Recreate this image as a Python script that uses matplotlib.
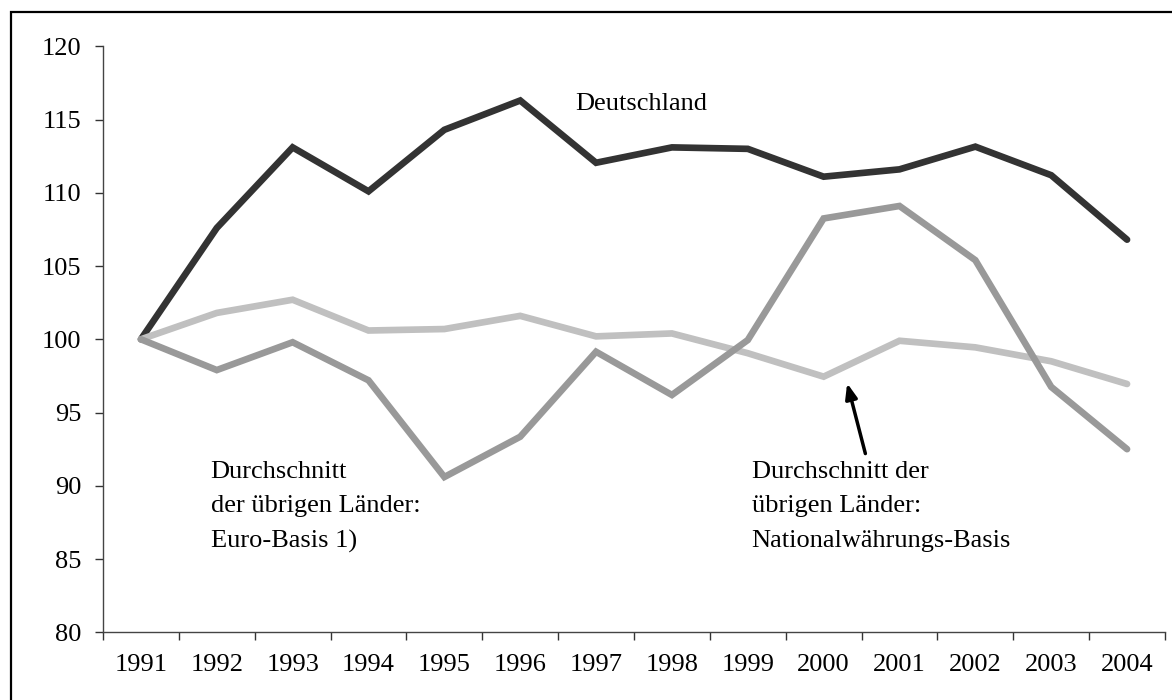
import matplotlib.pyplot as plt
import numpy as np
from matplotlib.patches import Rectangle

years = ['1991', '1992', '1993', '1994', '1995', '1996', '1997',
         '1998', '1999', '2000', '2001', '2002', '2003', '2004']
deutschland = [100, 107.6, 113.1, 110.1, 114.3, 116.3, 112.05,
               113.1, 113.0, 111.1, 111.6, 113.15, 111.2, 106.8]
national = [100, 101.8, 102.7, 100.6, 100.7, 101.6, 100.2,
            100.4, 99.05, 97.45, 99.9, 99.45, 98.5, 96.95]
euro = [100, 97.9, 99.8, 97.2, 90.6, 93.35, 99.15,
        96.2, 99.95, 108.25, 109.1, 105.4, 96.75, 92.5]

plt.rcParams['font.family'] = ['Liberation Serif', 'DejaVu Serif']

fig = plt.figure(figsize=(11.72, 7), dpi=100)
ax = fig.add_axes([103/1172, 1 - 632.3/700, (1165 - 103)/1172, (632.3 - 46.3)/700])

x = np.arange(len(years))
lw = 4.8
ax.plot(x, deutschland, color='#333333', lw=lw, solid_capstyle='round', solid_joinstyle='miter')
ax.plot(x, national, color='#c0c0c0', lw=lw, solid_capstyle='round', solid_joinstyle='miter')
ax.plot(x, euro, color='#999999', lw=lw, solid_capstyle='round', solid_joinstyle='miter')

ax.set_xlim(-0.5, len(years) - 0.5)
ax.set_ylim(80, 120)
ax.set_yticks(np.arange(80, 121, 5))

# category ticks between bins, labels at centers
ax.set_xticks(np.arange(-0.5, len(years), 1))
ax.set_xticklabels([])
ax.set_xticks(x, minor=True)
ax.set_xticklabels(years, minor=True)
ax.tick_params(axis='x', which='major', direction='out', length=5.5, width=1, color='#333333')
ax.tick_params(axis='x', which='minor', length=0, pad=15.5, labelsize=19)
ax.tick_params(axis='y', direction='out', length=5.5, width=1, color='#333333', pad=10, labelsize=19)

for s in ['top', 'right']:
    ax.spines[s].set_visible(False)
for s in ['left', 'bottom']:
    ax.spines[s].set_color('#444444')
    ax.spines[s].set_linewidth(1)

ax.text(5.72, 115.65, 'Deutschland', fontsize=19, va='baseline', ha='left')
ax.text(0.92, 91.7, 'Durchschnitt\nder übrigen Länder:\nEuro-Basis 1)',
        fontsize=19, va='top', ha='left', linespacing=1.73)
ax.text(8.05, 91.7, 'Durchschnitt der\nübrigen Länder:\nNationalwährungs-Basis',
        fontsize=19, va='top', ha='left', linespacing=1.73)

ax.annotate('', xy=(9.31, 97.0), xytext=(9.55, 92.2),
            arrowprops=dict(arrowstyle='-|>,head_length=0.9,head_width=0.35',
                            color='black', lw=2.5, shrinkA=0, shrinkB=0))

# frame around the whole chart (cut off at right and bottom)
fig.patches.append(Rectangle((11/1172, -0.1), 1.0, 1 - 12/700 + 0.1,
                             transform=fig.transFigure, fill=False,
                             edgecolor='black', lw=1.6))

fig.savefig('out.png', dpi=100)
